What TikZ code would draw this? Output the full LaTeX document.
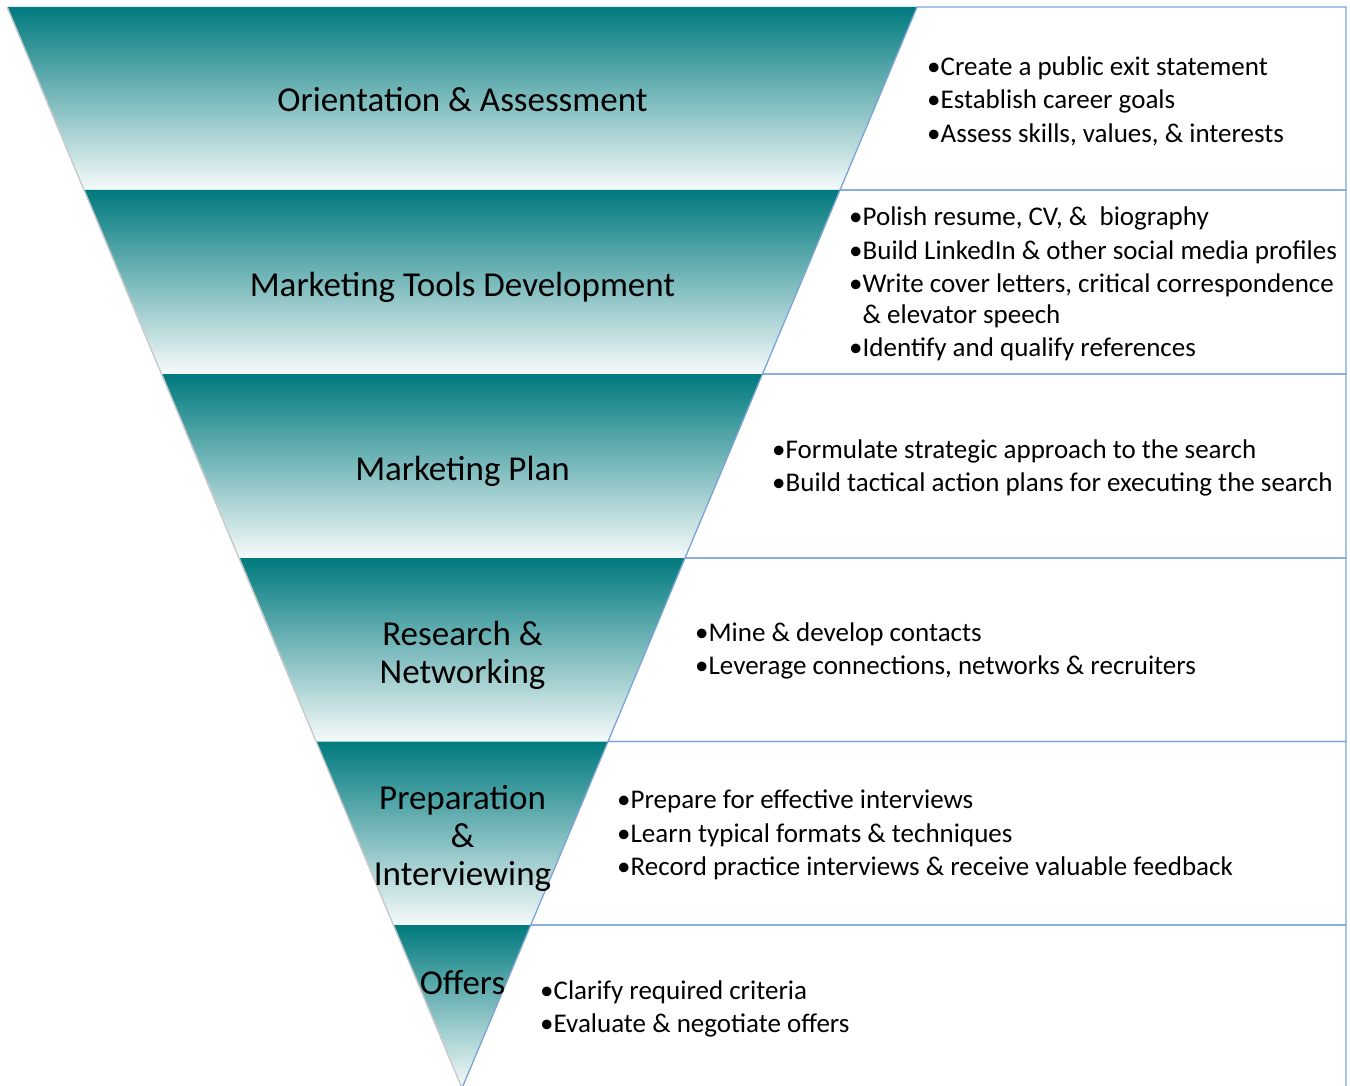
\documentclass[tikz,border=0pt]{standalone}
\usepackage{fontspec}
\setmainfont{Carlito}
\definecolor{tealtop}{RGB}{0,122,126}
\definecolor{tealbot}{RGB}{246,250,250}
\definecolor{boxblue}{RGB}{124,163,214}
\begin{document}
\begin{tikzpicture}[x=1pt,y=-1pt,
  band/.style={top color=tealtop, bottom color=tealbot, draw=none},
  listbox/.style={draw=boxblue, line width=1.3pt, line join=miter},
  title/.style={font=\fontsize{35}{38}\selectfont, align=center, inner sep=0pt, text=black},
  items/.style={font=\fontsize{27}{30.5}\selectfont, align=left, anchor=west, inner sep=0pt, text=black}]
\useasboundingbox (0,0) rectangle (1350,1086);
\clip (0,0) rectangle (1350,1086);

% funnel corners, left (L) and right (R) at each level
\coordinate (L0) at (8,7);       \coordinate (R0) at (917,7);
\coordinate (L1) at (85,190);    \coordinate (R1) at (840,190);
\coordinate (L2) at (162.5,374); \coordinate (R2) at (762.5,374);
\coordinate (L3) at (240,558);   \coordinate (R3) at (685,558);
\coordinate (L4) at (317,741.5); \coordinate (R4) at (608,741.5);
\coordinate (L5) at (394.3,925); \coordinate (R5) at (530.7,925);
\coordinate (T)  at (462.5,1087);
\coordinate (B0) at (1346,7);    \coordinate (B1) at (1346,190);
\coordinate (B2) at (1346,374);  \coordinate (B3) at (1346,558);
\coordinate (B4) at (1346,741.5);\coordinate (B5) at (1346,925);
\coordinate (B6) at (1346,1100); \coordinate (S6) at (457,1100);

% soft shadow along the left side of the funnel
\draw[black!22, line width=1.6pt] ([xshift=-0.8pt]L0) -- ([xshift=-0.8pt]T);

% funnel bands
\path[band] (L0) -- (R0) -- (R1) -- (L1) -- cycle;
\path[band] (L1) -- (R1) -- (R2) -- (L2) -- cycle;
\path[band] (L2) -- (R2) -- (R3) -- (L3) -- cycle;
\path[band] (L3) -- (R3) -- (R4) -- (L4) -- cycle;
\path[band] (L4) -- (R4) -- (R5) -- (L5) -- cycle;
\path[band] (L5) -- (R5) -- (T) -- cycle;

% list boxes beside the funnel
\draw[listbox] (R0) -- (B0) -- (B1) -- (R1) -- cycle;
\draw[listbox] (R1) -- (B1) -- (B2) -- (R2) -- cycle;
\draw[listbox] (R2) -- (B2) -- (B3) -- (R3) -- cycle;
\draw[listbox] (R3) -- (B3) -- (B4) -- (R4) -- cycle;
\draw[listbox] (R4) -- (B4) -- (B5) -- (R5) -- cycle;
\draw[listbox] (R5) -- (B5) -- (B6) -- (S6) -- cycle;

% stage titles
\node[title] (t1) at (462.5,100) {Orientation \& Assessment};
\node[title] (t2) at (462.5,287) {Marketing Tools Development};
\node[title] (t3) at (462.5,471) {Marketing Plan};
\node[title] (t4) at (462.5,655) {Research \&\\Networking};
\node[title] (t5) at (462.5,838) {Preparation\\\&\\Interviewing};
\node[title] (t6) at (462.5,983) {Offers};

% stage actions
\node[items] (l1) at (927,101) {•Create a public exit statement\\[3pt]•Establish career goals\\[3pt]•Assess skills, values, \& interests};
\node[items] (l2) at (849,284) {•Polish resume, CV, \&~ biography\\[3pt]•Build LinkedIn \& other social media profiles\\[3pt]•Write cover letters, critical correspondence\\\phantom{•}\& elevator speech\\[3pt]•Identify and qualify references};
\node[items] (l3) at (772,468) {•Formulate strategic approach to the search\\[2pt]•Build tactical action plans for executing the search};
\node[items] (l4) at (695,651) {•Mine \& develop contacts\\[2pt]•Leverage connections, networks \& recruiters};
\node[items] (l5) at (617,835) {•Prepare for effective interviews\\[3pt]•Learn typical formats \& techniques\\[3pt]•Record practice interviews \& receive valuable feedback};
\node[items] (l6) at (540,1009) {•Clarify required criteria\\[2pt]•Evaluate \& negotiate offers};
\end{tikzpicture}
\end{document}
